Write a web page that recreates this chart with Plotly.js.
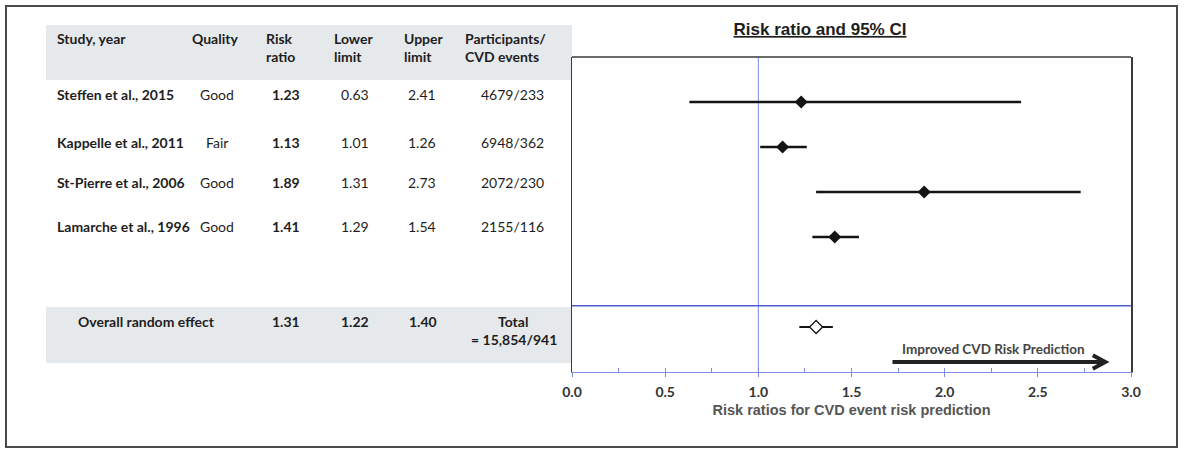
<!DOCTYPE html>
<html>
<head>
<meta charset="utf-8">
<script src="https://cdn.plot.ly/plotly-3.0.1.min.js"></script>
<style>html,body{margin:0;padding:0;background:#fff;}#chart{width:1184px;height:449px;}</style>
</head>
<body>
<div id="chart"></div>
<script>
// ---- data ----
const studies = ["Steffen et al., 2015", "Kappelle et al., 2011", "St-Pierre et al., 2006", "Lamarche et al., 1996"];
const quality = ["Good", "Fair", "Good", "Good"];
const riskRatio = [1.23, 1.13, 1.89, 1.41];
const lowerLimit = [0.63, 1.01, 1.31, 1.29];
const upperLimit = [2.41, 1.26, 2.73, 1.54];
const participants = ["4679/233", "6948/362", "2072/230", "2155/116"];
const overallLabel = "Overall random effect";
const overallRR = 1.31;
const overallLower = 1.22;
const overallUpper = 1.40;
const overallTotal = ["Total", "= 15,854/941"];
const headerLines = [["Study, year"], ["Quality"], ["Risk", "ratio"], ["Lower", "limit"], ["Upper", "limit"], ["Participants/", "CVD events"]];
const xTickVals = [0, 0.5, 1.0, 1.5, 2.0, 2.5, 3.0];
const chartTitle = "Risk ratio and 95% CI";
const xTitle = "Risk ratios for CVD event risk prediction";
const arrowLabel = "Improved CVD Risk Prediction";

// ---- layout geometry (pixels) ----
const W = 1184, H = 449;
const PL = 572, PR = 1131, PT = 57, PB = 372;
const px2x = p => (p - PL) / (PR - PL);
const py2y = p => (PB - p) / (PB - PT);
const TABLE_FONT = "Lato, 'Open Sans', sans-serif";
const ARIAL = "'Liberation Sans', Arial, sans-serif";
const txtColor = "#1e1e1e";
const blueLine = "#7d8de3";
const FS = 14;

const headerX = [55, 215, 264, 332, 402, 463];
const headerAnchor = ["left", "center", "left", "left", "left", "left"];
const headerY = [38, 56];
const rowTextY = [94, 142, 182, 226];
const colX = {name: 55, quality: 217, rr: 286, lower: 355, upper: 422, part: 512};
const overallTextY = [321, 339];

const annotations = [];
function txt(text, px, py, anchor, bold, size) {
  annotations.push({
    xref: "paper", yref: "paper", x: px2x(px), y: py2y(py),
    xanchor: anchor, yanchor: "middle", showarrow: false,
    text: bold ? "<b>" + text + "</b>" : text,
    font: {family: TABLE_FONT, size: size || FS, color: txtColor}
  });
}
// header
headerLines.forEach((lines, c) => lines.forEach((l, k) => txt(l, headerX[c], headerY[k], headerAnchor[c], true)));
// rows
studies.forEach((s, i) => {
  const y = rowTextY[i];
  txt(s, colX.name, y, "left", true);
  txt(quality[i], colX.quality, y, "center", false);
  txt(riskRatio[i].toFixed(2), colX.rr, y, "center", true);
  txt(lowerLimit[i].toFixed(2), colX.lower, y, "center", false);
  txt(upperLimit[i].toFixed(2), colX.upper, y, "center", false);
  txt(participants[i], colX.part, y, "center", false);
});
// overall row
txt(overallLabel, 146, overallTextY[0], "center", true);
txt(overallRR.toFixed(2), colX.rr, overallTextY[0], "center", true);
txt(overallLower.toFixed(2), colX.lower, overallTextY[0], "center", true);
txt(overallUpper.toFixed(2), colX.upper + 1, overallTextY[0], "center", true);
txt(overallTotal[0], colX.part + 1, overallTextY[0], "center", true);
txt(overallTotal[1], colX.part + 2, overallTextY[1], "center", true);

// arrow label
annotations.push({
  xref: "x", yref: "y", x: 2.26, y: 6.49, showarrow: false, xanchor: "center", yanchor: "middle",
  text: "<b>" + arrowLabel + "</b>", font: {family: TABLE_FONT, size: 13.5, color: "#444"}
});

const rowIdx = studies.map((_, i) => i + 1);
const overallIdx = studies.length + 2;

const traces = [
  {
    type: "scatter", mode: "markers", x: riskRatio, y: rowIdx,
    marker: {symbol: "diamond", size: 10, color: "#141414"},
    error_x: {type: "data", symmetric: false,
      array: upperLimit.map((u, i) => u - riskRatio[i]),
      arrayminus: lowerLimit.map((l, i) => riskRatio[i] - l),
      color: "#141414", thickness: 2.5, width: 0},
    hoverinfo: "skip", showlegend: false
  },
  {
    type: "scatter", mode: "markers", x: [overallRR], y: [overallIdx],
    marker: {symbol: "diamond", size: 10, color: "#ffffff", line: {color: "#141414", width: 1.3}},
    error_x: {type: "data", symmetric: false, array: [overallUpper - overallRR], arrayminus: [overallRR - overallLower],
      color: "#141414", thickness: 2, width: 0},
    hoverinfo: "skip", showlegend: false
  },
  {type: "scatter", mode: "markers", x: [], y: [], xaxis: "x2", yaxis: "y", showlegend: false, hoverinfo: "skip"}
];

const shapes = [
  // outer frame
  {type: "rect", xref: "paper", yref: "paper", x0: px2x(6), x1: px2x(1177), y0: py2y(447), y1: py2y(6),
   line: {color: "#4a4a4a", width: 2}, fillcolor: "rgba(0,0,0,0)", layer: "above"},
  // table bands
  {type: "rect", xref: "paper", yref: "paper", x0: px2x(46), x1: px2x(572), y0: py2y(80), y1: py2y(25),
   line: {width: 0}, fillcolor: "#e6e9eb", layer: "below"},
  {type: "rect", xref: "paper", yref: "paper", x0: px2x(46), x1: px2x(572), y0: py2y(363), y1: py2y(307),
   line: {width: 0}, fillcolor: "#e6e9eb", layer: "below"},
  // reference line at RR = 1
  {type: "line", xref: "x", yref: "paper", x0: 1, x1: 1, y0: 0, y1: 1, line: {color: blueLine, width: 1}, layer: "below"},
  // separator above the overall row
  {type: "line", xref: "paper", yref: "y", x0: 0, x1: 1, y0: 5.53, y1: 5.53, line: {color: "#4d5fd6", width: 1.5}, layer: "below"},
  // top border of plot box
  {type: "line", xref: "paper", yref: "paper", x0: 0, x1: 1, y0: 1, y1: 1, line: {color: "#3a3a3a", width: 1.5}},
  // arrow
  {type: "line", xref: "x", yref: "y", x0: 1.72, x1: 2.85, y0: 6.78, y1: 6.78, line: {color: "#222", width: 4}},
  {type: "path", xref: "x", yref: "y", path: "M 2.795 6.63 L 2.862 6.78 L 2.795 6.93", line: {color: "#222", width: 4}}
];

const layout = {
  width: W, height: H,
  margin: {l: PL, r: W - PR, t: PT, b: H - PB, pad: 0},
  paper_bgcolor: "#fff", plot_bgcolor: "#fff",
  showlegend: false,
  title: {text: "<b><u>" + chartTitle + "</u></b>", x: 820 / W, y: 1 - 29 / H, xref: "container", yref: "container",
    xanchor: "center", yanchor: "middle", font: {family: ARIAL, size: 17, color: "#1e1e1e"}},
  xaxis: {
    range: [0, 3], tickvals: xTickVals, ticktext: xTickVals.map(v => "<b>" + v.toFixed(1) + "</b>"),
    ticks: "outside", ticklen: 4, tickwidth: 1, tickcolor: blueLine,
    showline: true, linecolor: blueLine, linewidth: 1, mirror: false,
    showgrid: false, zeroline: false, fixedrange: true,
    tickfont: {family: TABLE_FONT, size: 14, color: "#333"},
    ticklabelstandoff: 3,
    title: {text: "<b>" + xTitle + "</b>", font: {family: ARIAL, size: 14.5, color: "#555"}, standoff: 6}
  },
  xaxis2: {
    overlaying: "x", anchor: "y", side: "bottom", range: [0, 3], tick0: 0, dtick: 0.25,
    ticks: "inside", ticklen: 4, tickwidth: 1, tickcolor: blueLine,
    showticklabels: false, showline: false, showgrid: false, zeroline: false, fixedrange: true
  },
  yaxis: {
    range: [7, 0], showticklabels: false, ticks: "", showgrid: false, zeroline: false,
    showline: true, mirror: true, linecolor: "#3a3a3a", linewidth: 1.5, fixedrange: true
  },
  shapes: shapes,
  annotations: annotations
};

Plotly.newPlot("chart", traces, layout, {displayModeBar: false, staticPlot: true});
</script>
</body>
</html>
